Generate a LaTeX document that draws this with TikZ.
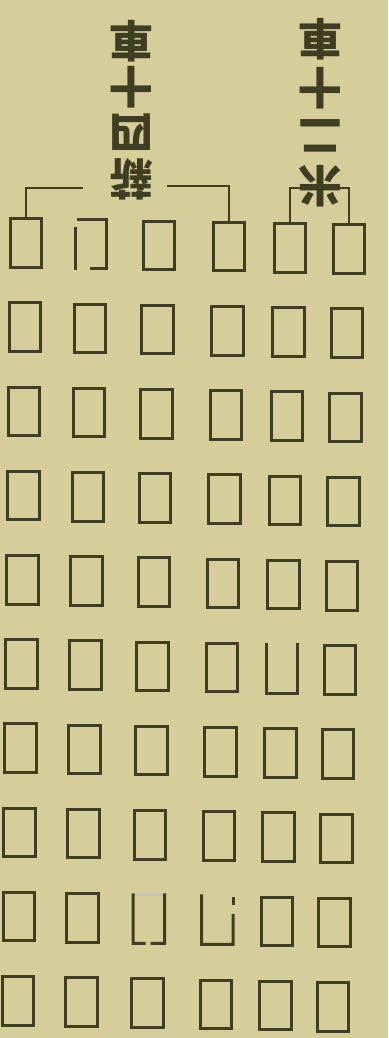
\documentclass[tikz,border=0pt]{standalone}
\usepackage{fontspec}
\usetikzlibrary{calc}
\newfontfamily\cjk{Noto Sans CJK TC}
\definecolor{paper}{RGB}{214,206,154}
\definecolor{ink}{RGB}{64,62,34}
\tikzset{
  cell/.style={draw=ink, line width=3pt, minimum width=31.5pt, minimum height=48.5pt, inner sep=0pt, outer sep=0pt},
  open/.style={draw=none},
  open12/.style={open}, open65/.style={open}, open93/.style={open}, open94/.style={open},
  rim/.style={draw=ink, line width=3pt, line cap=rect},
  brack/.style={draw=ink, line width=2.2pt},
  tag/.style={text=ink, rotate=180, align=center, inner sep=0pt}
}
\begin{document}
\begin{tikzpicture}[x=1pt, y=-1pt]
  \fill[paper] (0,0) rectangle (388,1038);
  \useasboundingbox (0,0) rectangle (388,1038);
  % boxes, ten rows of six
  \foreach \r in {1,...,10}
    \foreach \c/\xa in {1/26, 2/91, 3/159, 4/229, 5/290, 6/349} {
      \pgfmathsetmacro\bx{\xa-(\r-1)*(0.9+0.18*(\c-1))}
      \pgfmathsetmacro\by{243+(\r-1)*84.2+(\c-1)*1.2}
      \node[cell, open\r\c/.try] (b\r\c) at (\bx,\by) {};
    }
  % broken boxes
  \draw[rim] ($(b12.north west)+(3,0)$) -- (b12.north east) -- (b12.south east) -- (b12.south);
  \draw[rim] ($(b12.north west)+(0,9)$) -- (b12.south west);
  \draw[rim] (b65.north west) -- (b65.south west) -- (b65.south east) -- (b65.north east);
  \draw[rim, ink!30] (b93.north west) -- (b93.north east);
  \draw[rim] (b93.north west) -- (b93.south west) -- ($(b93.south west)!0.35!(b93.south east)$);
  \draw[rim] ($(b93.south west)!0.6!(b93.south east)$) -- (b93.south east) -- (b93.north east);
  \draw[rim] (b94.north west) -- (b94.south west) -- (b94.south east) -- ($(b94.south east)!0.6!(b94.north east)$);
  \draw[rim] ($(b94.north east)+(0,3)$) -- ($(b94.north east)+(0,8)$);
  % brackets
  \coordinate (lkl) at (83,188);
  \coordinate (lkr) at (167,186);
  \coordinate (rk) at (320,188);
  \draw[brack] (b11.north) |- (lkl);
  \draw[brack] (lkr) -| (b14.north);
  \draw[brack] (b15.north) |- (rk) -| (b16.north);
  % labels, printed upside down
  \node[tag, font=\cjk\bfseries\fontsize{44}{46}\selectfont] (lbl) at (131,110) {薪\\四\\十\\車};
  \node[tag, font=\cjk\bfseries\fontsize{44}{49}\selectfont] (rbl) at (320,113) {米\\二\\十\\車};
\end{tikzpicture}
\end{document}
